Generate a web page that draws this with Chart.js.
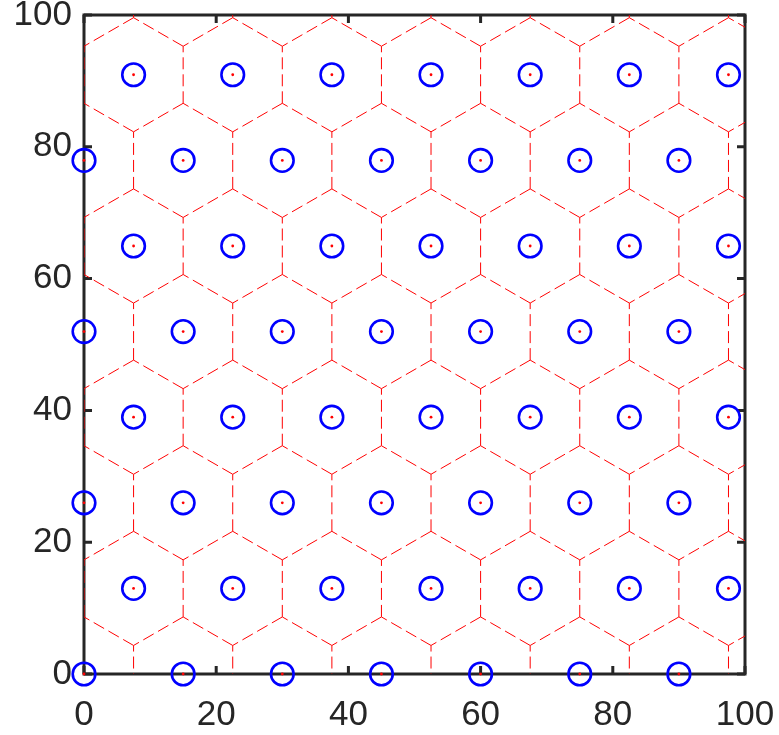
<!DOCTYPE html>
<html>
<head>
<meta charset="utf-8">
<script src="https://cdn.jsdelivr.net/npm/chart.js@4/dist/chart.umd.min.js"></script>
<style>
  html, body { margin: 0; padding: 0; background: #ffffff; }
  #wrap { width: 779px; height: 735px; }
</style>
</head>
<body>
<div id="wrap"><canvas id="chart" width="779" height="735"></canvas></div>
<script>
// Sites of the hexagonal lattice: rows alternate between two x offsets
const rowY = [0, 12.99, 25.98, 38.97, 51.96, 64.95, 77.94, 90.93];
const evenRowX = [0, 15, 30, 45, 60, 75, 90];
const oddRowX = [7.5, 22.5, 37.5, 52.5, 67.5, 82.5, 97.5];
const axisTicks = [0, 20, 40, 60, 80, 100];

const sites = [];
rowY.forEach((y, i) => {
  (i % 2 === 0 ? evenRowX : oddRowX).forEach(x => sites.push({ x, y }));
});

// Voronoi cells of the lattice are regular hexagons; the lattice is
// continued one ring past the axes so that edges reaching the border are complete.
const dx = evenRowX[1] - evenRowX[0];
const dy = rowY[1] - rowY[0];
const R = dx / Math.sqrt(3);
const vertexKey = p => Math.round(p.x * 100) + ',' + Math.round(p.y * 100);
const edgeKeys = new Set();
const edges = [];
for (let r = -1; r <= rowY.length; r++) {
  const cy = rowY[0] + r * dy;
  const x0 = (((r % 2) + 2) % 2 === 0) ? evenRowX[0] : oddRowX[0];
  for (let c = -1; c <= evenRowX.length + 1; c++) {
    const cx = x0 + c * dx;
    const verts = [];
    for (let k = 0; k < 6; k++) {
      const a = Math.PI / 6 + k * Math.PI / 3;
      verts.push({ x: cx + R * Math.cos(a), y: cy + R * Math.sin(a) });
    }
    for (let k = 0; k < 6; k++) {
      const p = verts[k], q = verts[(k + 1) % 6];
      const kp = vertexKey(p), kq = vertexKey(q);
      const key = kp < kq ? kp + '|' + kq : kq + '|' + kp;
      if (edgeKeys.has(key)) continue;
      edgeKeys.add(key);
      if (Math.max(p.x, q.x) < -0.01 || Math.min(p.x, q.x) > 100.01 ||
          Math.max(p.y, q.y) < -0.01 || Math.min(p.y, q.y) > 100.01) continue;
      edges.push(p, q, { x: null, y: null });
    }
  }
}

const inkColor = '#262626';
const tickFont = { family: '"Liberation Sans", Arial, Helvetica, sans-serif', size: 35 };

// Axis box with inward ticks on all four sides
const axisBox = {
  id: 'axisBox',
  beforeDatasetsDraw(chart) {
    const { ctx, chartArea: a, scales } = chart;
    const xs = scales.x, ys = scales.y;
    const len = 8;
    ctx.save();
    ctx.strokeStyle = inkColor;
    ctx.lineWidth = 3;
    ctx.strokeRect(a.left, a.top, a.right - a.left, a.bottom - a.top);
    ctx.beginPath();
    axisTicks.forEach(v => {
      const px = xs.getPixelForValue(v);
      const py = ys.getPixelForValue(v);
      ctx.moveTo(px, a.bottom); ctx.lineTo(px, a.bottom - len);
      ctx.moveTo(px, a.top); ctx.lineTo(px, a.top + len);
      ctx.moveTo(a.left, py); ctx.lineTo(a.left + len, py);
      ctx.moveTo(a.right, py); ctx.lineTo(a.right - len, py);
    });
    ctx.stroke();
    ctx.restore();
  }
};

new Chart(document.getElementById('chart'), {
  type: 'scatter',
  data: {
    datasets: [
      {
        label: 'centres',
        data: sites,
        pointStyle: 'circle',
        pointRadius: 1.4,
        backgroundColor: '#ff0000',
        borderWidth: 0,
        clip: false,
        order: 1
      },
      {
        label: 'sites',
        data: sites,
        pointStyle: 'circle',
        pointRadius: 11.3,
        borderColor: '#0000ff',
        backgroundColor: 'rgba(0,0,0,0)',
        borderWidth: 2.6,
        clip: false,
        order: 2
      },
      {
        label: 'cells',
        data: edges,
        showLine: true,
        spanGaps: false,
        pointRadius: 0,
        borderColor: '#ff0000',
        borderWidth: 1,
        borderDash: [12, 5],
        order: 3
      }
    ]
  },
  options: {
    responsive: false,
    animation: false,
    events: [],
    layout: { padding: { left: 0, top: 15, right: 34, bottom: 0 } },
    plugins: { legend: { display: false }, tooltip: { enabled: false } },
    scales: {
      x: {
        type: 'linear',
        min: 0,
        max: 100,
        grid: { display: false, drawTicks: false },
        border: { display: false },
        ticks: { stepSize: 20, font: tickFont, color: inkColor, padding: 20, maxRotation: 0 },
        afterFit(s) { s.height = 61; s.paddingLeft = 0; s.paddingRight = 0; }
      },
      y: {
        type: 'linear',
        min: 0,
        max: 100,
        grid: { display: false, drawTicks: false },
        border: { display: false },
        ticks: { stepSize: 20, font: tickFont, color: inkColor, padding: 12 },
        afterFit(s) { s.width = 84; s.paddingTop = 0; s.paddingBottom = 0; }
      }
    }
  },
  plugins: [axisBox]
});
</script>
</body>
</html>
